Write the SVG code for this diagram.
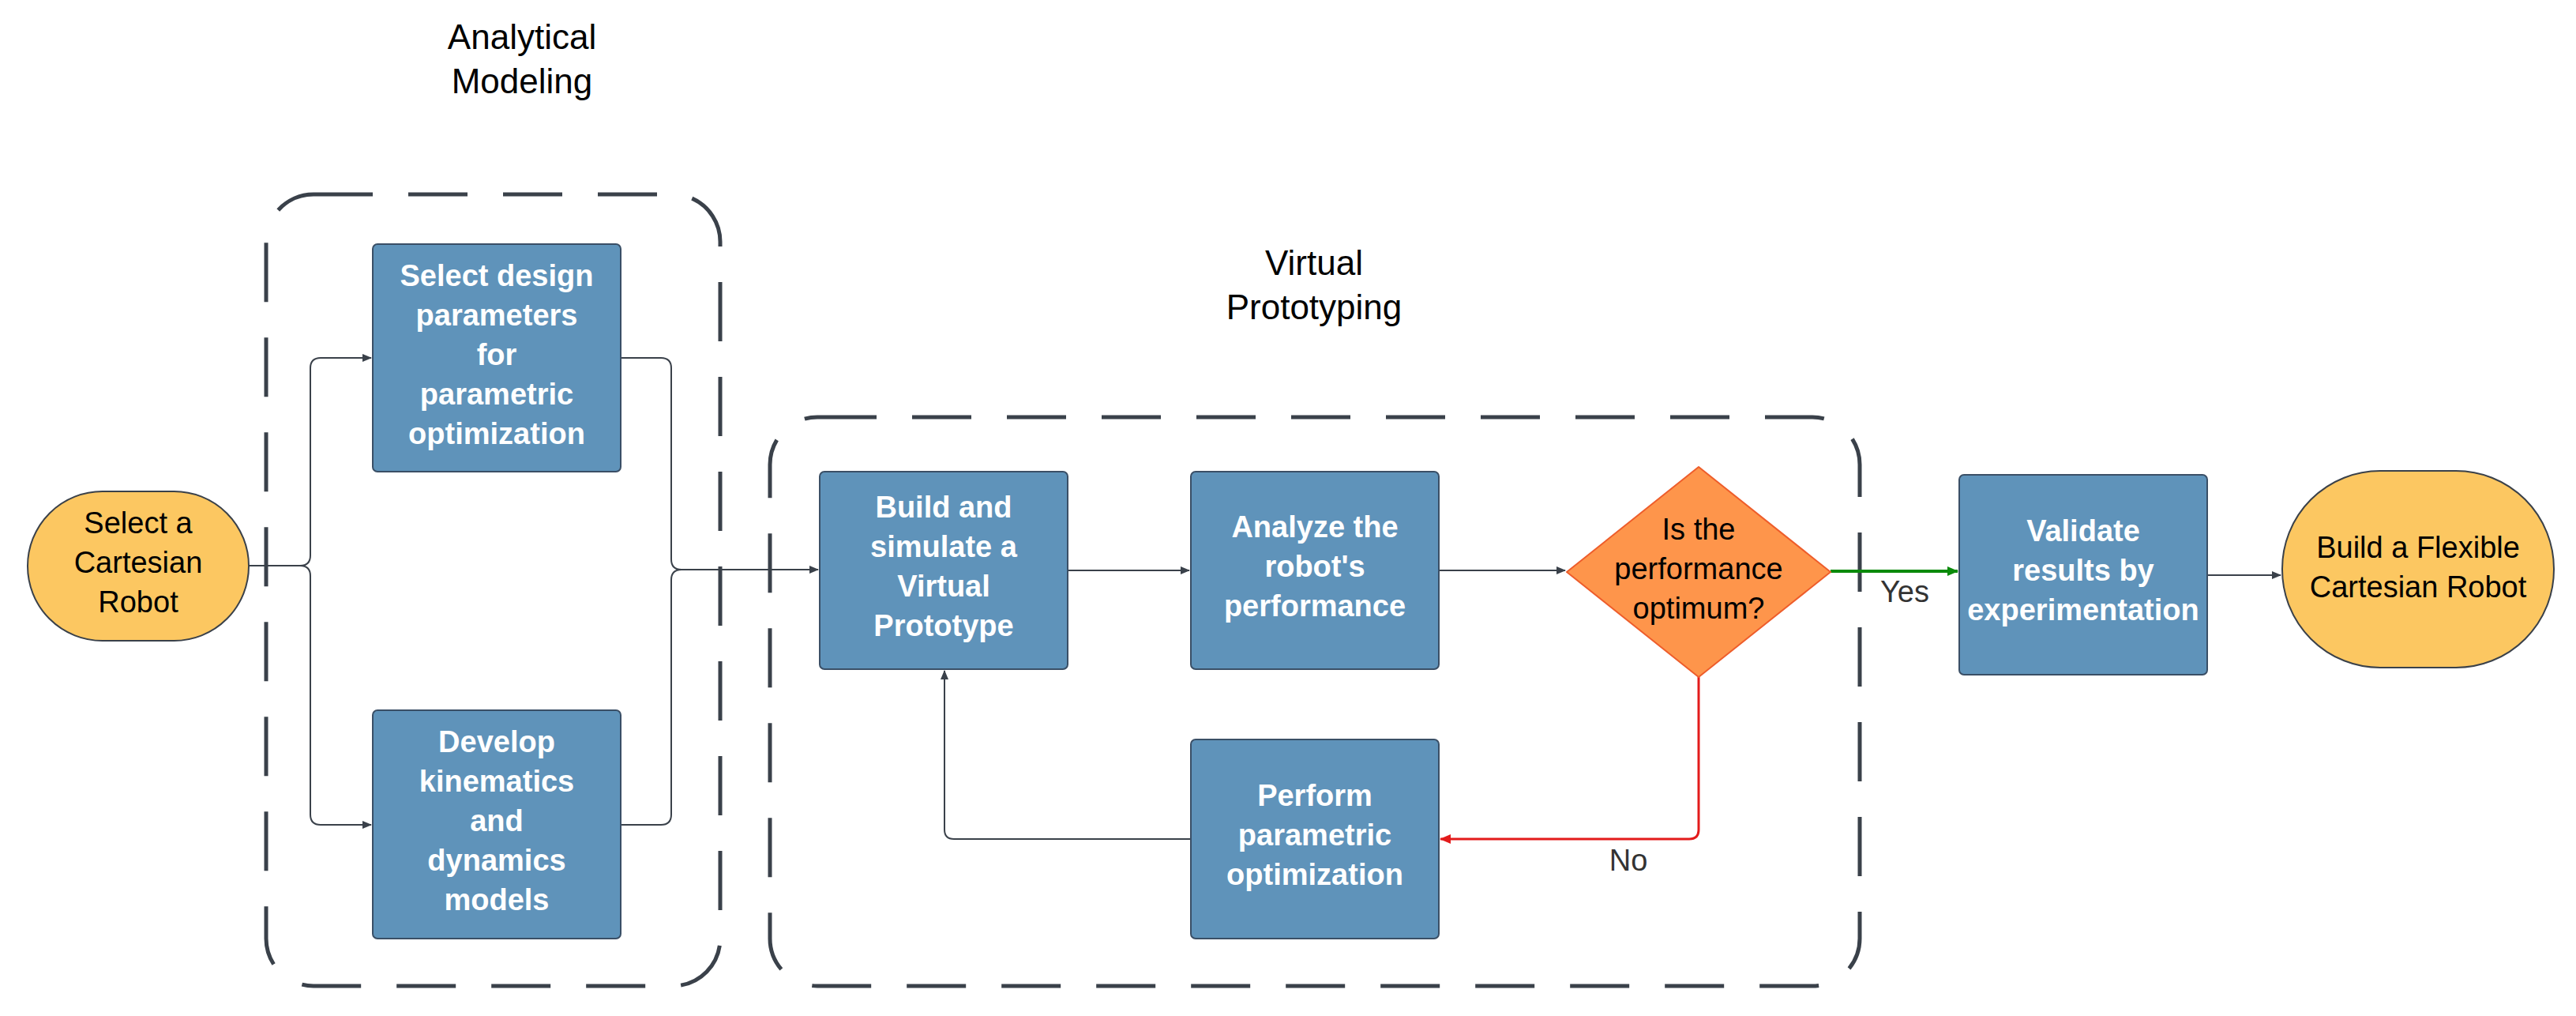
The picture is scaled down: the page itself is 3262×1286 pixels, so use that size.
<svg xmlns="http://www.w3.org/2000/svg" width="3262" height="1286" viewBox="0 0 3262 1286">
<style>
.grp{fill:none;stroke:#3a414a;stroke-width:5;stroke-dasharray:75 45}
.box{fill:#5f93ba;stroke:#3a4f66;stroke-width:2}
.bt{font-family:"Liberation Sans",Arial,sans-serif;font-weight:bold;font-size:38px;fill:#fff;text-anchor:middle}
.yt{font-family:"Liberation Sans",Arial,sans-serif;font-size:38px;fill:#000;text-anchor:middle}
.title{font-family:"Liberation Sans",Arial,sans-serif;font-size:44px;fill:#000;text-anchor:middle}
.ln{fill:none;stroke:#3a414a;stroke-width:2}
.lbl{font-family:"Liberation Sans",Arial,sans-serif;font-size:38px;fill:#333;text-anchor:middle}
</style>
<defs>
<marker id="a" markerWidth="12" markerHeight="10" refX="11" refY="5" orient="auto" markerUnits="userSpaceOnUse"><path d="M0,0 L12,5 L0,10 z" fill="#3a414a"/></marker>
<marker id="ag" markerWidth="14" markerHeight="12" refX="13" refY="6" orient="auto" markerUnits="userSpaceOnUse"><path d="M0,0 L14,6 L0,12 z" fill="#0a8a0a"/></marker>
<marker id="ar" markerWidth="14" markerHeight="12" refX="13" refY="6" orient="auto" markerUnits="userSpaceOnUse"><path d="M0,0 L14,6 L0,12 z" fill="#e31b1b"/></marker>
</defs>
<g id="group-analytical">
<rect class="grp" x="337" y="246" width="575" height="1002" rx="60"/>
<text class="title" x="661" y="62">Analytical</text>
<text class="title" x="661" y="118">Modeling</text>
</g>
<g id="group-virtual">
<rect class="grp" x="975" y="528" width="1380" height="720" rx="60"/>
<text class="title" x="1664" y="348">Virtual</text>
<text class="title" x="1664" y="404">Prototyping</text>
</g>
<g id="connectors">
<path class="ln" d="M315,716 H380 Q393,716 393,703 V466 Q393,453 406,453 H470" marker-end="url(#a)"/>
<path class="ln" d="M315,716 H380 Q393,716 393,729 V1031 Q393,1044 406,1044 H470" marker-end="url(#a)"/>
<path class="ln" d="M786,453 H837 Q850,453 850,466 V708 Q850,721 863,721 H1036" marker-end="url(#a)"/>
<path class="ln" d="M786,1044 H837 Q850,1044 850,1031 V734 Q850,721 863,721 H1036"/>
<path class="ln" d="M1352,722 H1506" marker-end="url(#a)"/>
<path class="ln" d="M1822,722 H1982" marker-end="url(#a)"/>
<path fill="none" stroke="#0a8a0a" stroke-width="4" d="M2318,723 H2479" marker-end="url(#ag)"/>
<path class="ln" d="M2795,728 H2888" marker-end="url(#a)"/>
<path fill="none" stroke="#e31b1b" stroke-width="3" d="M2151,857 V1050 Q2151,1062 2139,1062 H1824" marker-end="url(#ar)"/>
<path class="ln" d="M1508,1062 H1208 Q1196,1062 1196,1050 V849" marker-end="url(#a)"/>
<text class="lbl" x="2412" y="762">Yes</text>
<text class="lbl" x="2062" y="1102">No</text>
</g>
<g id="n-select-robot">
<rect x="35" y="622" width="280" height="189" rx="94.5" fill="#fcc761" stroke="#3a414a" stroke-width="2"/>
<text class="yt" x="175" y="675">Select a</text>
<text class="yt" x="175" y="725">Cartesian</text>
<text class="yt" x="175" y="775">Robot</text>
</g>
<g id="n-select-design">
<rect class="box" x="472" y="309" width="314" height="288" rx="6"/>
<text class="bt" x="629" y="362">Select design</text>
<text class="bt" x="629" y="412">parameters</text>
<text class="bt" x="629" y="462">for</text>
<text class="bt" x="629" y="512">parametric</text>
<text class="bt" x="629" y="562">optimization</text>
</g>
<g id="n-develop">
<rect class="box" x="472" y="899" width="314" height="289" rx="6"/>
<text class="bt" x="629" y="952">Develop</text>
<text class="bt" x="629" y="1002">kinematics</text>
<text class="bt" x="629" y="1052">and</text>
<text class="bt" x="629" y="1102">dynamics</text>
<text class="bt" x="629" y="1152">models</text>
</g>
<g id="n-build-sim">
<rect class="box" x="1038" y="597" width="314" height="250" rx="6"/>
<text class="bt" x="1195" y="655">Build and</text>
<text class="bt" x="1195" y="705">simulate a</text>
<text class="bt" x="1195" y="755">Virtual</text>
<text class="bt" x="1195" y="805">Prototype</text>
</g>
<g id="n-analyze">
<rect class="box" x="1508" y="597" width="314" height="250" rx="6"/>
<text class="bt" x="1665" y="680">Analyze the</text>
<text class="bt" x="1665" y="730">robot's</text>
<text class="bt" x="1665" y="780">performance</text>
</g>
<g id="n-decision">
<path d="M2151,591 L2318,724 L2151,857 L1984,724 Z" fill="#fe954b" stroke="#ee5d2b" stroke-width="2" stroke-linejoin="round"/>
<text class="yt" x="2151" y="683">Is the</text>
<text class="yt" x="2151" y="733">performance</text>
<text class="yt" x="2151" y="783">optimum?</text>
</g>
<g id="n-perform">
<rect class="box" x="1508" y="936" width="314" height="252" rx="6"/>
<text class="bt" x="1665" y="1020">Perform</text>
<text class="bt" x="1665" y="1070">parametric</text>
<text class="bt" x="1665" y="1120">optimization</text>
</g>
<g id="n-validate">
<rect class="box" x="2481" y="601" width="314" height="253" rx="6"/>
<text class="bt" x="2638" y="685">Validate</text>
<text class="bt" x="2638" y="735">results by</text>
<text class="bt" x="2638" y="785">experimentation</text>
</g>
<g id="n-build-flex">
<rect x="2890" y="596" width="344" height="249" rx="124" fill="#fcc761" stroke="#3a414a" stroke-width="2"/>
<text class="yt" x="3062" y="706">Build a Flexible</text>
<text class="yt" x="3062" y="756">Cartesian Robot</text>
</g>
</svg>
